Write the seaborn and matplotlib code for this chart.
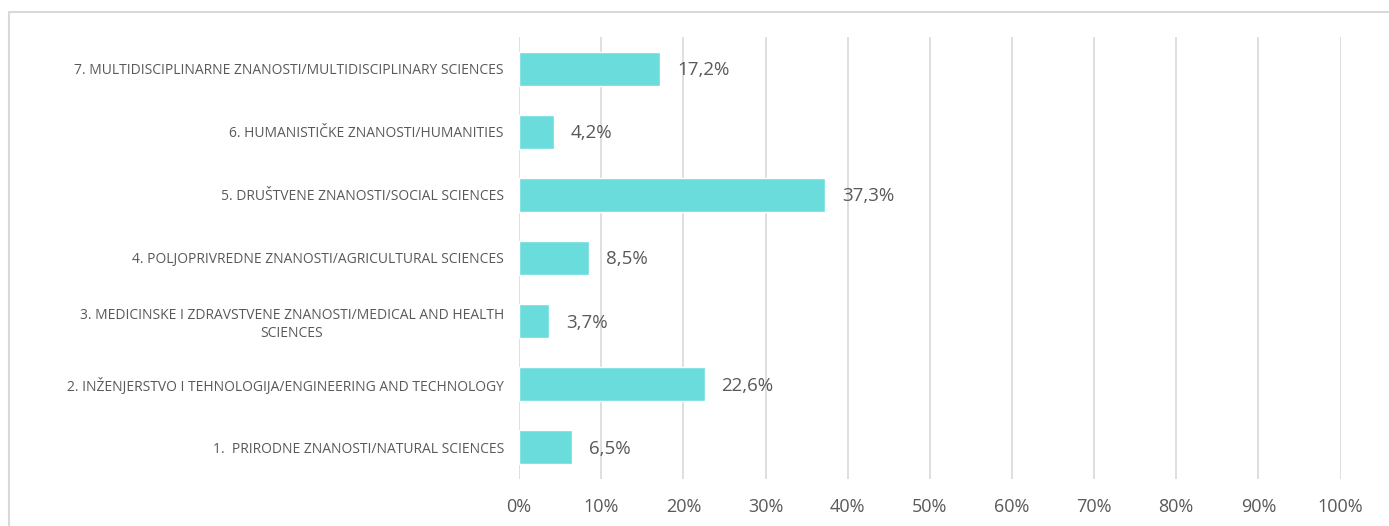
import matplotlib
matplotlib.use("Agg")
import matplotlib.pyplot as plt
import seaborn as sns
from matplotlib.lines import Line2D
from matplotlib.ticker import FuncFormatter

categories = [
    "7. MULTIDISCIPLINARNE ZNANOSTI/MULTIDISCIPLINARY SCIENCES",
    "6. HUMANISTIČKE ZNANOSTI/HUMANITIES",
    "5. DRUŠTVENE ZNANOSTI/SOCIAL SCIENCES",
    "4. POLJOPRIVREDNE ZNANOSTI/AGRICULTURAL SCIENCES",
    "3. MEDICINSKE I ZDRAVSTVENE ZNANOSTI/MEDICAL AND HEALTH\nSCIENCES",
    "2. INŽENJERSTVO I TEHNOLOGIJA/ENGINEERING AND TECHNOLOGY",
    "1.  PRIRODNE ZNANOSTI/NATURAL SCIENCES",
]
values = [17.2, 4.2, 37.3, 8.5, 3.7, 22.6, 6.5]
value_labels = ["17,2%", "4,2%", "37,3%", "8,5%", "3,7%", "22,6%", "6,5%"]
x_ticks = [0, 10, 20, 30, 40, 50, 60, 70, 80, 90, 100]

BAR_COLOR = "#6ADCDC"
TEXT_COLOR = "#595959"
GRID_COLOR = "#D9D9D9"

sns.set_theme(style="white")
plt.rcParams["font.family"] = ["Open Sans", "DejaVu Sans"]

fig = plt.figure(figsize=(13.89, 5.26), dpi=100)
ax = fig.add_axes([0.3737, 0.0894, 0.5914, 0.8403])

sns.barplot(x=values, y=categories, color=BAR_COLOR, saturation=1,
            width=0.54, orient="h", ax=ax, zorder=3)

ax.set_xlim(0, 100)
ax.set_xticks(x_ticks)
ax.xaxis.set_major_formatter(FuncFormatter(lambda v, p: f"{v:.0f}%"))
ax.grid(axis="x", color=GRID_COLOR, linewidth=1.2, zorder=0)
ax.set_axisbelow(True)
for s in ax.spines.values():
    s.set_visible(False)

ax.tick_params(axis="x", length=0, pad=14, labelsize=13, labelcolor=TEXT_COLOR)
ax.tick_params(axis="y", length=0, pad=11, labelsize=10, labelcolor=TEXT_COLOR)
for lbl in ax.get_yticklabels():
    lbl.set_multialignment("center")
    lbl.set_linespacing(1.3)
ax.set_xlabel("")
ax.set_ylabel("")

for i, (v, txt) in enumerate(zip(values, value_labels)):
    ax.annotate(txt, xy=(v, i), xytext=(12, -1), textcoords="offset points",
                ha="left", va="center", fontsize=13.5, color=TEXT_COLOR)

# light frame around the chart area (top and left edges visible)
fig.add_artist(Line2D([9 / 1389, 1], [1 - 12 / 526, 1 - 12 / 526],
                      transform=fig.transFigure, color=GRID_COLOR, linewidth=1.5))
fig.add_artist(Line2D([9 / 1389, 9 / 1389], [0, 1 - 12 / 526],
                      transform=fig.transFigure, color=GRID_COLOR, linewidth=1.5))

fig.savefig("out.png", dpi=100)
plt.close(fig)
